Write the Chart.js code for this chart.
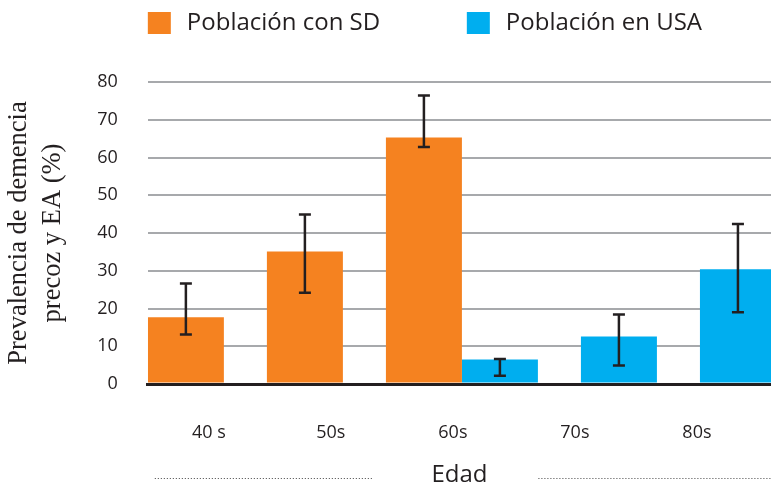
<!DOCTYPE html>
<html>
<head>
<meta charset="utf-8">
<title>Prevalencia de demencia precoz y EA</title>
<script src="https://cdn.jsdelivr.net/npm/chart.js@4.4.1/dist/chart.umd.min.js"></script>
<style>
  html, body { margin: 0; padding: 0; background: #fff; }
  #wrap { width: 771px; height: 487px; }
</style>
</head>
<body>
<div id="wrap"><canvas id="chart"></canvas></div>
<script>
// values (percent)
const ageGroups = ['40 s', '50s', '60s', '70s', '80s'];
const sdValues = [17.7, 35.1, 65.3, null, null];
const sdLow = [13.1, 24.2, 62.8, null, null];
const sdHigh = [26.6, 44.9, 76.4, null, null];
const usaValues = [null, null, 6.5, 12.6, 30.4];
const usaLow = [null, null, 2.2, 4.9, 19.0];
const usaHigh = [null, null, 6.6, 18.4, 42.4];
const yTicks = [0, 10, 20, 30, 40, 50, 60, 70, 80];

const ink = '#231f20';
const orange = '#f58220';
const blue = '#00aeef';

Chart.defaults.font.family = '"Open Sans", sans-serif';
Chart.defaults.color = ink;

// whiskers drawn through the y scale at each bar's centre
const errorBars = {
  id: 'errorBars',
  afterDatasetsDraw(chart) {
    const ctx = chart.ctx;
    const y = chart.scales.y;
    const ranges = [[sdLow, sdHigh], [usaLow, usaHigh]];
    ctx.save();
    ctx.strokeStyle = ink;
    ctx.lineWidth = 2.5;
    ranges.forEach(([lo, hi], d) => {
      chart.getDatasetMeta(d).data.forEach((bar, i) => {
        if (lo[i] == null || hi[i] == null) return;
        const top = y.getPixelForValue(hi[i]);
        const bot = y.getPixelForValue(lo[i]);
        ctx.beginPath();
        ctx.moveTo(bar.x, top);
        ctx.lineTo(bar.x, bot);
        ctx.moveTo(bar.x - 6, top);
        ctx.lineTo(bar.x + 6, top);
        ctx.moveTo(bar.x - 6, bot);
        ctx.lineTo(bar.x + 6, bot);
        ctx.stroke();
      });
    });
    ctx.restore();
  }
};

// legend row at the top and the dotted rules beside "Edad"
const decorations = {
  id: 'decorations',
  afterDraw(chart) {
    const ctx = chart.ctx;
    const area = chart.chartArea;
    ctx.save();
    ctx.font = '24px "Open Sans"';
    ctx.textBaseline = 'middle';
    chart.data.datasets.forEach((ds, i) => {
      const x = area.left + i * 319;
      ctx.fillStyle = ds.backgroundColor;
      ctx.fillRect(x, 12, 23, 22);
      ctx.fillStyle = ink;
      ctx.fillText(ds.label, x + 39, 23);
    });

    const mid = (area.left + area.right) / 2;
    const y = 478.5;
    ctx.strokeStyle = '#444';
    ctx.lineWidth = 1;
    ctx.setLineDash([1, 2]);
    ctx.beginPath();
    ctx.moveTo(area.left + 7, y);
    ctx.lineTo(mid - 86, y);
    ctx.moveTo(mid + 79, y);
    ctx.lineTo(area.right, y);
    ctx.stroke();
    ctx.restore();
  }
};

const indexTicks = (axis) => {
  axis.ticks = ageGroups.map((_, i) => ({ value: i }));
};

new Chart(document.getElementById('chart'), {
  type: 'bar',
  data: {
    datasets: [
      {
        label: 'Población con SD',
        data: sdValues.map((v, i) => ({ x: i, y: v })),
        backgroundColor: orange,
        categoryPercentage: 1.277,
        barPercentage: 1,
      },
      {
        label: 'Población en USA',
        data: usaValues.map((v, i) => ({ x: i, y: v })),
        backgroundColor: blue,
        categoryPercentage: 1.277,
        barPercentage: 1,
      },
    ],
  },
  options: {
    responsive: true,
    maintainAspectRatio: false,
    animation: false,
    layout: { padding: { top: 82, left: 0, right: 0, bottom: 0 } },
    plugins: {
      legend: { display: false },
      tooltip: { enabled: false },
    },
    scales: {
      x: {
        type: 'linear',
        offset: false,
        min: -0.639,
        max: 4.597,
        afterBuildTicks: indexTicks,
        display: false,
      },
      xl: {
        type: 'linear',
        position: 'bottom',
        offset: false,
        min: -0.5,
        max: 4.607,
        afterBuildTicks: indexTicks,
        grid: { display: false, drawTicks: false },
        border: { display: true, color: ink, width: 3 },
        ticks: {
          autoSkip: false,
          maxRotation: 0,
          padding: 38,
          font: { size: 18 },
          callback: (v) => ageGroups[v],
        },
        title: {
          display: true,
          text: 'Edad',
          font: { size: 24 },
          padding: { top: -20.4, bottom: -3 },
        },
      },
      y: {
        min: 0,
        max: 80,
        afterBuildTicks: (axis) => {
          axis.ticks = yTicks.map((v) => ({ value: v }));
        },
        grid: {
          drawTicks: false,
          color: (c) => (c.tick && c.tick.value === 0 ? ink : '#a7a9ac'),
          lineWidth: (c) => (c.tick && c.tick.value === 0 ? 3 : 2),
        },
        border: { display: false },
        ticks: {
          padding: 30,
          font: { size: 18 },
        },
        title: {
          display: true,
          text: ['Prevalencia de demencia', 'precoz y EA (%)'],
          font: { family: '"Liberation Serif", serif', size: 26.5, lineHeight: 1.28 },
          padding: { top: 2, bottom: -2.6 },
        },
      },
    },
  },
  plugins: [errorBars, decorations],
});
</script>
</body>
</html>
